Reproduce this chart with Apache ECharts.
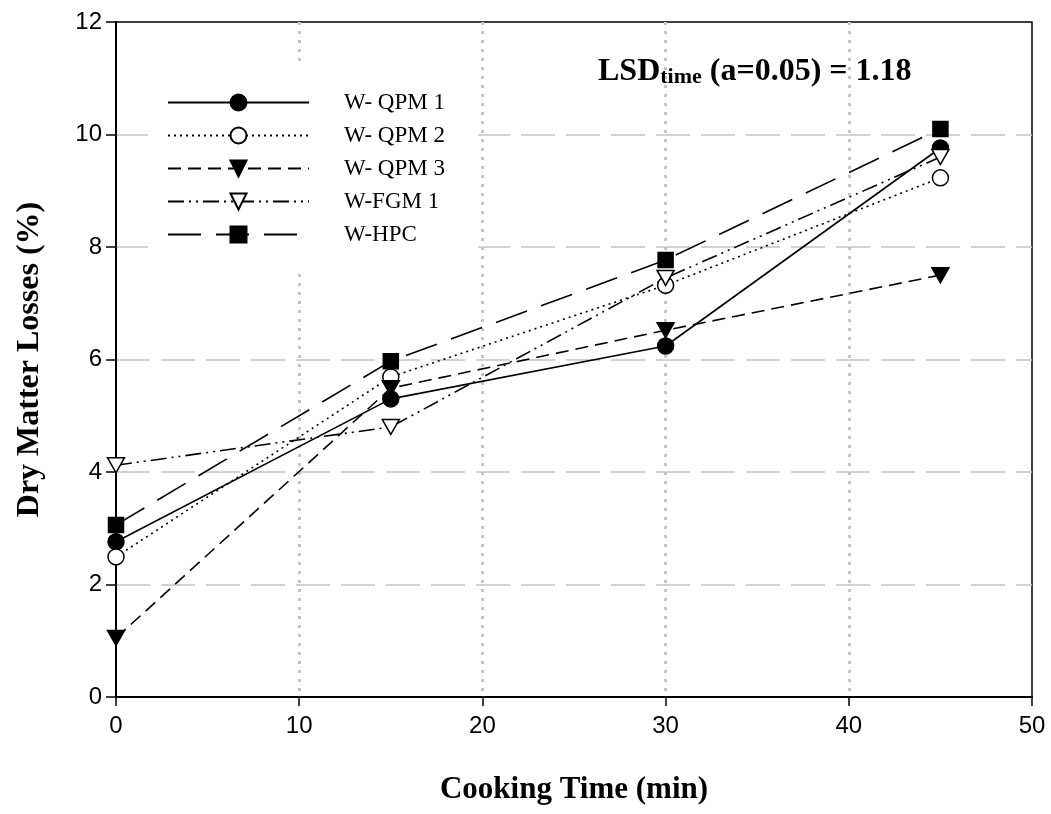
<!DOCTYPE html>
<html>
<head>
<meta charset="utf-8">
<title>Dry Matter Losses vs Cooking Time</title>
<script src="https://cdn.jsdelivr.net/npm/echarts@6/dist/echarts.min.js"></script>
<style>
  html, body { margin: 0; padding: 0; background: #fff; }
  #chart { width: 1051px; height: 814px; }
</style>
</head>
<body>
<div id="chart"></div>
<script>
// Cooking time (min) at which dry matter losses were measured
const cookingTimes = [0, 15, 30, 45];

// Dry matter losses (%) per maize sample
const qpm1 = [2.76, 5.30, 6.24, 9.76];
const qpm2 = [2.49, 5.69, 7.32, 9.23];
const qpm3 = [1.05, 5.49, 6.52, 7.50];
const fgm1 = [4.12, 4.80, 7.45, 9.60];
const hpc  = [3.06, 5.97, 7.77, 10.10];

const seriesNames = ['W- QPM 1', 'W- QPM 2', 'W- QPM 3', 'W-FGM 1', 'W-HPC'];

const xTicks = [0, 10, 20, 30, 40, 50];
const yTicks = [0, 2, 4, 6, 8, 10, 12];

const serif = '"Liberation Serif", "Times New Roman", serif';
const sans = '"Liberation Sans", Arial, sans-serif';

function pairs(values) {
  return cookingTimes.map((t, i) => [t, values[i]]);
}

function makeSeries(name, values, symbol, filled, dash, rotate) {
  return {
    name: name,
    type: 'line',
    data: pairs(values),
    symbol: symbol,
    symbolSize: symbol === 'rect' ? 15 : (symbol === 'triangle' ? [17, 15] : 16),
    symbolRotate: rotate || 0,
    showAllSymbol: true,
    lineStyle: { color: '#000', width: 1.6, type: dash },
    itemStyle: {
      color: filled ? '#000' : '#fff',
      borderColor: '#000',
      borderWidth: 1.5
    },
    emphasis: { disabled: true },
    animation: false,
    z: 3
  };
}

const chart = echarts.init(document.getElementById('chart'), null, { renderer: 'canvas' });

chart.setOption({
  backgroundColor: '#fff',
  animation: false,
  grid: {
    left: 116, right: 19, top: 22, bottom: 117,
    show: true, borderColor: '#000', borderWidth: 1.5, backgroundColor: 'transparent'
  },
  xAxis: {
    type: 'value',
    min: xTicks[0], max: xTicks[xTicks.length - 1], interval: 10,
    name: 'Cooking Time (min)',
    nameLocation: 'middle',
    nameGap: 77,
    nameTextStyle: { fontFamily: serif, fontWeight: 'bold', fontSize: 31, color: '#000' },
    axisLine: { show: true, lineStyle: { color: '#000', width: 2 } },
    axisTick: { show: true, inside: false, length: 9, lineStyle: { color: '#000', width: 1.5 } },
    axisLabel: { fontFamily: sans, fontSize: 24, color: '#000', margin: 17 },
    splitLine: {
      show: true, showMinLine: false, showMaxLine: false,
      lineStyle: { color: '#c4c4c4', width: 3, type: [3, 6] }
    }
  },
  yAxis: {
    type: 'value',
    min: yTicks[0], max: yTicks[yTicks.length - 1], interval: 2,
    name: 'Dry Matter Losses (%)',
    nameLocation: 'middle',
    nameGap: 70,
    nameTextStyle: { fontFamily: serif, fontWeight: 'bold', fontSize: 32, color: '#000' },
    axisLine: { show: true, lineStyle: { color: '#000', width: 2 } },
    axisTick: { show: true, inside: false, length: 10, lineStyle: { color: '#000', width: 1.5 } },
    axisLabel: { fontFamily: sans, fontSize: 24, color: '#000', margin: 14 },
    splitLine: {
      show: true, showMinLine: false, showMaxLine: false,
      lineStyle: { color: '#c4c4c4', width: 1.5, type: [34, 11] }
    }
  },
  legend: {
    orient: 'vertical',
    left: 148, top: 65,
    padding: [26, 33, 25, 19],
    backgroundColor: '#fff',
    itemWidth: 141, itemHeight: 20, itemGap: 10,
    align: 'left',
    selectedMode: false,
    textStyle: { fontFamily: serif, fontSize: 23, lineHeight: 20, color: '#000', padding: [0, 0, 0, 30] },
    data: seriesNames
  },
  graphic: [{
    type: 'text',
    left: 598, top: 56,
    style: {
      text: '{a|LSD}{b|time}{a| (a=0.05) = 1.18}',
      rich: {
        a: { fontFamily: serif, fontWeight: 'bold', fontSize: 32, lineHeight: 36, fill: '#000', verticalAlign: 'bottom' },
        b: { fontFamily: serif, fontWeight: 'bold', fontSize: 22, lineHeight: 24, fill: '#000', verticalAlign: 'bottom' }
      }
    },
    z: 10
  }],
  series: [
    makeSeries(seriesNames[0], qpm1, 'circle', true, 'solid'),
    makeSeries(seriesNames[1], qpm2, 'circle', false, [2, 4]),
    makeSeries(seriesNames[2], qpm3, 'triangle', true, [13, 7], 180),
    makeSeries(seriesNames[3], fgm1, 'triangle', false, [16, 5, 2, 5, 2, 5], 180),
    makeSeries(seriesNames[4], hpc, 'rect', true, [33, 15])
  ]
});
</script>
</body>
</html>
